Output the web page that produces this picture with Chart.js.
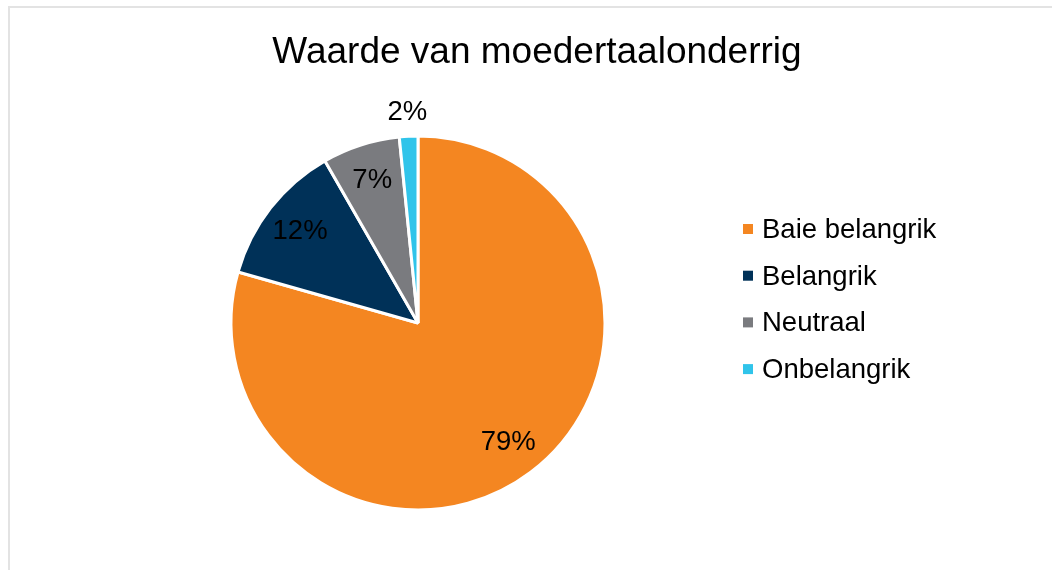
<!DOCTYPE html>
<html>
<head>
<meta charset="utf-8">
<script src="https://cdn.jsdelivr.net/npm/chart.js@4/dist/chart.umd.min.js"></script>
<style>
  html, body { margin: 0; padding: 0; background: #fff; overflow: hidden; }
  #frame { position: absolute; left: 8px; top: 6px; width: 1100px; height: 620px; border: 2px solid #e3e3e3; box-sizing: border-box; }
  #wrap { position: absolute; left: 0; top: 0; width: 1052px; height: 570px; }
</style>
</head>
<body>
<div id="frame"></div>
<div id="wrap"><canvas id="c" width="1052" height="570"></canvas></div>
<script>
const chartTitle = 'Waarde van moedertaalonderrig';
const categories = ['Baie belangrik', 'Belangrik', 'Neutraal', 'Onbelangrik'];
const shares = [79.4, 12.3, 6.7, 1.6];
const sliceColors = ['#F48621', '#003158', '#7A7B7F', '#30C4EA'];

const FONT = '"Liberation Sans", Arial, sans-serif';

const decorPlugin = {
  id: 'decor',
  afterDraw(chart) {
    const ctx = chart.ctx;
    ctx.save();
    // title
    ctx.fillStyle = '#000';
    ctx.font = '37px ' + FONT;
    ctx.textAlign = 'center';
    ctx.textBaseline = 'alphabetic';
    ctx.fillText(chartTitle, 537, 63);
    // legend
    const labels = chart.data.labels;
    const colors = chart.data.datasets[0].backgroundColor;
    ctx.font = '27.5px ' + FONT;
    ctx.textAlign = 'left';
    labels.forEach((lab, i) => {
      const cy = 229 + i * 46.7;
      ctx.fillStyle = colors[i];
      ctx.fillRect(743, cy - 5, 10, 10);
      ctx.fillStyle = '#000';
      ctx.fillText(lab, 762, cy + 9);
    });
    ctx.restore();
  },
  afterDatasetsDraw(chart) {
    const ctx = chart.ctx;
    const meta = chart.getDatasetMeta(0);
    const data = chart.data.datasets[0].data;
    const total = data.reduce((a, b) => a + b, 0);
    ctx.save();
    ctx.font = '27.5px ' + FONT;
    ctx.fillStyle = '#000';
    ctx.textAlign = 'center';
    ctx.textBaseline = 'middle';
    meta.data.forEach((arc, i) => {
      const p = arc.getProps(['x', 'y', 'startAngle', 'endAngle', 'outerRadius'], true);
      const mid = (p.startAngle + p.endAngle) / 2;
      const frac = data[i] / total;
      const d = frac < 0.03 ? p.outerRadius + 24 : p.outerRadius * 0.8;
      const x = p.x + Math.cos(mid) * d;
      const y = p.y + Math.sin(mid) * d;
      ctx.fillText(Math.round(frac * 100) + '%', x, y);
    });
    ctx.restore();
  }
};

new Chart(document.getElementById('c'), {
  type: 'pie',
  data: {
    labels: categories,
    datasets: [{
      data: shares,
      backgroundColor: sliceColors,
      borderColor: '#ffffff',
      borderWidth: 3
    }]
  },
  options: {
    responsive: false,
    animation: false,
    events: [],
    radius: 187,
    layout: { padding: { left: 20, right: 236, top: 100, bottom: 24 } },
    plugins: {
      legend: { display: false },
      title: { display: false },
      tooltip: { enabled: false }
    }
  },
  plugins: [decorPlugin]
});
</script>
</body>
</html>
